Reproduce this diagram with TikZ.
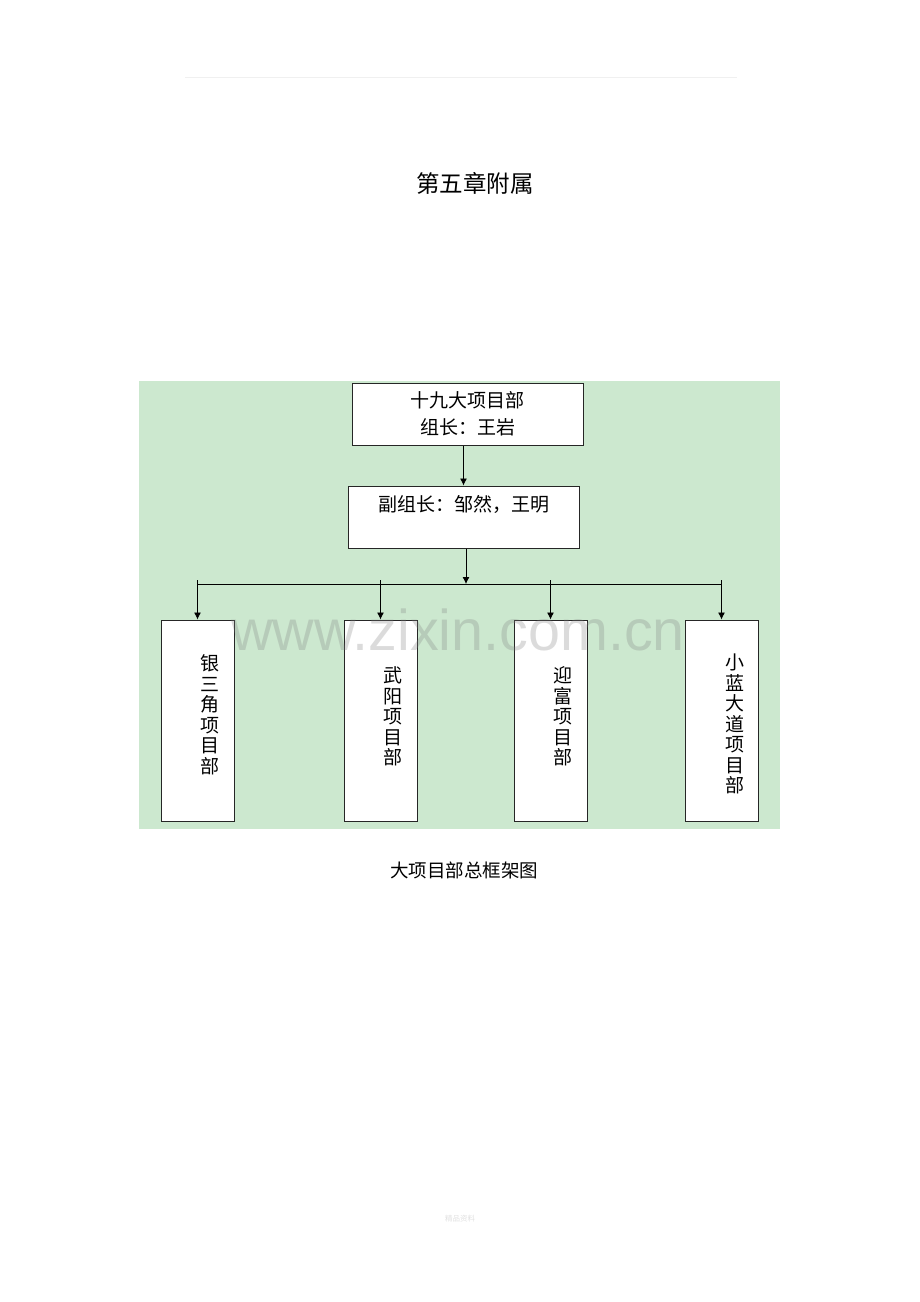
\documentclass[tikz,border=0pt]{standalone}
\usepackage{fontspec}
\setmainfont{Liberation Sans}
\newfontfamily\cjk{Noto Sans CJK SC}
\usetikzlibrary{positioning}
\usetikzlibrary{arrows.meta}
\definecolor{bggreen}{RGB}{204,232,207}
\tikzset{
	unit/.style={draw=black!85, rectangle, fill=white, line width=1pt, inner sep=0pt, align=center, font=\cjk\fontsize{19}{27}\selectfont},
	lead/.style={unit, minimum width=231pt, minimum height=62pt},
	dept/.style={unit, minimum width=73pt, minimum height=201pt},
	% stacked characters inside the tall boxes
	vlabel/.style={inner sep=0pt, align=center, font=\cjk\fontsize{19}{20.5}\selectfont},
	link/.style={line width=0.8pt, -{Latex[length=7pt,width=7pt]}},
}

\begin{document}
\begin{tikzpicture}[x=1pt, y=-1pt]
	\useasboundingbox (0,0) rectangle (920,1302);
	
	\draw[black!6, line width=0.6pt] (185,77) -- (737,77);
	\node (title) at (475,183) [font=\cjk\fontsize{23.5}{28}\selectfont] {第五章附属};
	
	\fill[bggreen] (139,381) rectangle (780,829);
	
	\node (head) at (467.5,414) [lead] {十九大项目部\\组长：王岩};
	\node (dep) at (463.5,517) [lead] {副组长：邹然，王明\\ \mbox{}};
	
	\node (b1) at (197.5,720.5) [dept] {};
	\node (b2) at (380.5,720.5) [dept] {};
	\node (b3) at (550.5,720.5) [dept] {};
	\node (b4) at (721.5,720.5) [dept] {};
	
	\node (t1) at (210,715) [vlabel] {银\\三\\角\\项\\目\\部};
	\node (t2) at (393,716.5) [vlabel] {武\\阳\\项\\目\\部};
	\node (t3) at (563,716.5) [vlabel] {迎\\富\\项\\目\\部};
	\node (t4) at (735,724) [vlabel] {小\\蓝\\大\\道\\项\\目\\部};
	
	\coordinate (k1) at (197.5,580);
	\coordinate (k2) at (380.5,580);
	\coordinate (k3) at (550.5,580);
	\coordinate (k4) at (721.5,580);
	\coordinate (mid) at (466,584);
	
	\begin{scope}[link]
		\draw (dep.north |- head.south) -- (dep.north);
		\draw (dep.south -| mid) -- (mid);
		
		\draw (k1) -- (b1);
		\draw (k2) -- (b2);
		\draw (k3) -- (b3);
		\draw (k4) -- (b4);
	\end{scope}
	\draw[line width=0.8pt] (k1 |- mid) -- (k4 |- mid);
	
	\node (wm) at (458,650) [anchor=base, text=gray, opacity=0.28, font=\fontsize{57.5}{60}\selectfont] {www.zixin.com.cn};
	
	\node (caption) at (464,870) [font=\cjk\fontsize{18.5}{22}\selectfont] {大项目部总框架图};
	\node (foot) at (460,1219) [text=black!12, font=\cjk\fontsize{7.5}{9}\selectfont] {精品资料};
\end{tikzpicture}
\end{document}
